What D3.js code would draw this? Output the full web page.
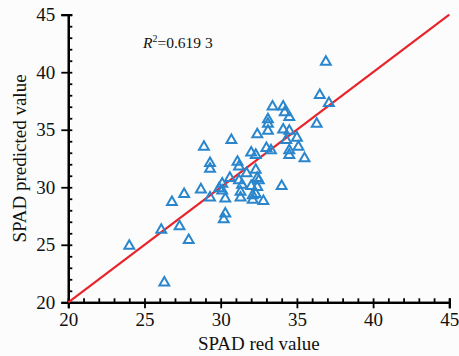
<!DOCTYPE html>
<html>
<head>
<meta charset="utf-8">
<script src="https://cdn.jsdelivr.net/npm/d3@7"></script>
<style>
  body { margin: 0; background: #fcfcfc; }
  svg { display: block; }
  text { font-family: "Liberation Serif", "Times New Roman", serif; fill: #111; }
</style>
</head>
<body>
<svg width="459" height="356"></svg>
<script>
// measured SPAD (x) vs predicted SPAD (y)
var spadRed = [24.0, 26.3, 26.1, 27.3, 27.9, 26.8, 27.6, 28.7, 29.3, 28.9,
  30.7, 29.3, 29.3, 30.1, 29.9, 30.1, 30.3, 30.3, 30.2, 30.6,
  31.1, 31.2, 31.2, 31.4, 31.3, 31.3, 31.7, 32.0, 32.3, 32.0,
  32.1, 32.3, 32.4, 32.5, 32.4, 32.3, 32.1, 32.8, 32.4, 33.0,
  33.3, 33.1, 33.1, 33.1, 33.4, 34.1, 34.2, 34.5, 34.1, 34.5,
  34.3, 35.0, 35.1, 34.5, 34.5, 35.5, 34.0, 36.3, 36.5, 37.1, 36.9];
var spadPred = [24.9, 21.7, 26.3, 26.6, 25.4, 28.7, 29.4, 29.8, 29.1, 33.5,
  34.1, 32.1, 31.6, 30.3, 29.9, 29.7, 29.0, 27.7, 27.2, 30.8,
  32.2, 31.8, 30.6, 30.2, 29.6, 29.1, 31.2, 33.0, 32.8, 30.1,
  29.3, 31.5, 30.8, 30.6, 30.0, 29.4, 28.9, 28.8, 34.6, 33.4,
  33.2, 35.9, 35.5, 34.9, 37.0, 37.0, 36.5, 36.1, 35.0, 34.9,
  34.1, 34.3, 33.5, 33.2, 32.8, 32.5, 30.1, 35.5, 38.0, 37.3, 40.9];
var majorTicks = [20, 25, 30, 35, 40, 45];
var fitLine = [20, 45];
var r2Label = "0.619 3";

var svg = d3.select("svg");

var x = d3.scaleLinear().domain([20, 45]).range([68.3, 449.3]);
var y = d3.scaleLinear().domain([20, 45]).range([302.3, 14.7]);
var minorTicks = d3.range(20, 45.01, 1);

var points = spadRed.map(function(d, i) { return {x: d, y: spadPred[i]}; });

// x axis: labelled ticks go out, minor ticks go in
var xMajor = svg.append("g")
  .attr("transform", "translate(0," + y(20) + ")")
  .call(d3.axisBottom(x).tickValues(majorTicks).tickSize(6).tickPadding(4).tickFormat(d3.format("d")));
var xMinor = svg.append("g")
  .attr("transform", "translate(0," + y(20) + ")")
  .call(d3.axisTop(x).tickValues(minorTicks).tickSize(4).tickFormat(""));

var yMajor = svg.append("g")
  .attr("transform", "translate(" + x(20) + ",0)")
  .call(d3.axisLeft(y).tickValues(majorTicks).tickSize(7).tickPadding(6).tickFormat(d3.format("d")));
var yMinor = svg.append("g")
  .attr("transform", "translate(" + x(20) + ",0)")
  .call(d3.axisRight(y).tickValues(minorTicks).tickSize(4).tickFormat(""));

[xMajor, xMinor, yMajor, yMinor].forEach(function(g) {
  g.selectAll(".domain").attr("stroke", "#000").attr("stroke-width", 2.2);
  g.selectAll(".tick line").attr("stroke", "#000").attr("stroke-width", 1.8);
  g.selectAll(".tick text")
    .style("font-family", "'Liberation Serif', serif")
    .style("font-size", "19px")
    .attr("fill", "#111");
});

// 1:1 line
svg.append("path")
  .datum(fitLine)
  .attr("fill", "none")
  .attr("stroke", "#e8242b")
  .attr("stroke-width", 2.2)
  .attr("d", d3.line().x(function(d) { return x(d); }).y(function(d) { return y(d); }));

// triangles
svg.append("g")
  .selectAll("path")
  .data(points)
  .enter()
  .append("path")
  .attr("transform", function(d) { return "translate(" + x(d.x) + "," + y(d.y) + ")"; })
  .attr("d", d3.symbol().type(d3.symbolTriangle).size(42))
  .attr("fill", "none")
  .attr("stroke", "#2a86cc")
  .attr("stroke-width", 2);

// R2 note
var note = svg.append("text")
  .attr("x", 143)
  .attr("y", 48)
  .style("font-size", "15.5px");
note.append("tspan").style("font-style", "italic").text("R");
note.append("tspan").attr("dy", -6).style("font-size", "10px").text("2");
note.append("tspan").attr("dy", 6).text("=" + r2Label);

// axis titles
svg.append("text")
  .attr("x", (x(20) + x(45)) / 2)
  .attr("y", 350)
  .attr("text-anchor", "middle")
  .style("font-size", "19px")
  .text("SPAD red value");

svg.append("text")
  .attr("transform", "translate(26," + (y(20) + y(45)) / 2 + ") rotate(-90)")
  .attr("text-anchor", "middle")
  .style("font-size", "19px")
  .text("SPAD predicted value");
</script>
</body>
</html>
